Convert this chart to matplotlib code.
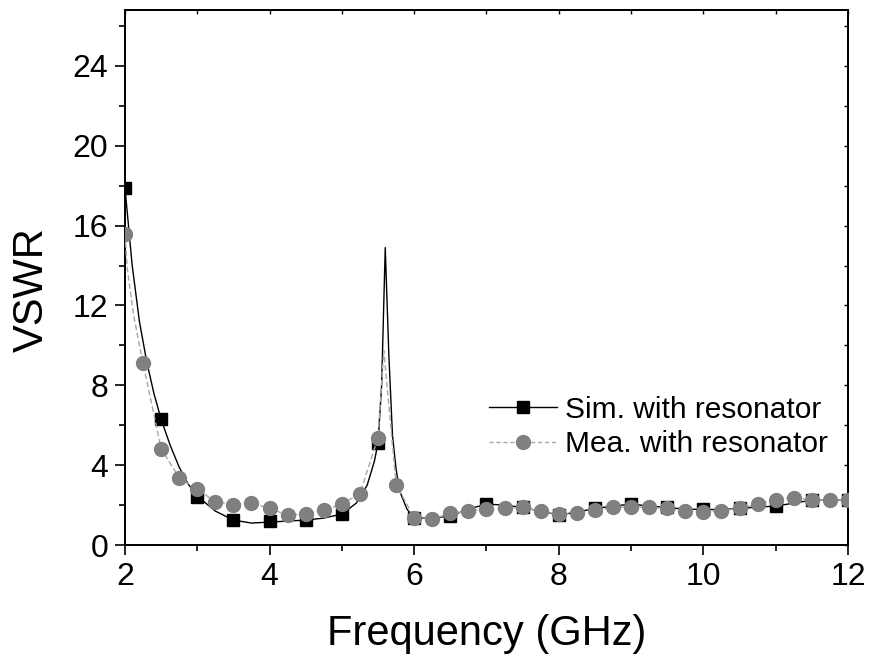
import numpy as np
import matplotlib.pyplot as plt
from matplotlib.lines import Line2D
from matplotlib.ticker import MultipleLocator, NullFormatter

plt.rcParams['font.family'] = ['Liberation Sans', 'DejaVu Sans']

# Simulated VSWR: marker points every 0.5 GHz
sim_freq = [2.0, 2.5, 3.0, 3.5, 4.0, 4.5, 5.0, 5.5, 6.0, 6.5, 7.0, 7.5, 8.0,
            8.5, 9.0, 9.5, 10.0, 10.5, 11.0, 11.5, 12.0]
sim_vswr = [17.9, 6.3, 2.4, 1.25, 1.2, 1.25, 1.53, 5.1, 1.35, 1.45, 2.05, 1.88, 1.5,
            1.83, 2.05, 1.88, 1.78, 1.83, 1.95, 2.25, 2.28]

# Simulated VSWR: the continuous curve, read at a finer step
sim_line_freq = [2.0, 2.1, 2.2, 2.3, 2.4, 2.5, 2.625, 2.75, 2.875, 3.0, 3.25, 3.5, 3.75,
                 4.0, 4.25, 4.5, 4.75, 5.0, 5.2, 5.35, 5.45, 5.5, 5.55, 5.6, 5.65, 5.7,
                 5.75, 5.8, 5.9, 6.0, 6.25, 6.5, 6.75, 7.0, 7.25, 7.5, 7.75, 8.0, 8.25,
                 8.5, 8.75, 9.0, 9.25, 9.5, 9.75, 10.0, 10.25, 10.5, 10.75, 11.0, 11.25,
                 11.5, 11.75, 12.0]
sim_line_vswr = [17.9, 14.0, 11.2, 9.2, 7.6, 6.3, 5.0, 3.9, 3.05, 2.45, 1.7, 1.25, 1.1,
                 1.15, 1.2, 1.25, 1.35, 1.55, 2.1, 3.0, 4.2, 5.1, 8.0, 14.9, 9.5, 5.5,
                 3.8, 2.7, 1.8, 1.35, 1.35, 1.45, 1.8, 2.05, 2.0, 1.88, 1.7, 1.5, 1.65,
                 1.83, 1.95, 2.05, 1.95, 1.88, 1.8, 1.78, 1.78, 1.83, 1.9, 1.95, 2.1,
                 2.25, 2.25, 2.28]

# Measured VSWR: marker points every 0.25 GHz
mea_freq = [2.0, 2.25, 2.5, 2.75, 3.0, 3.25, 3.5, 3.75, 4.0, 4.25, 4.5, 4.75, 5.0,
            5.25, 5.5, 5.75, 6.0, 6.25, 6.5, 6.75, 7.0, 7.25, 7.5, 7.75, 8.0, 8.25,
            8.5, 8.75, 9.0, 9.25, 9.5, 9.75, 10.0, 10.25, 10.5, 10.75, 11.0, 11.25,
            11.5, 11.75, 12.0]
mea_vswr = [15.6, 9.1, 4.83, 3.37, 2.8, 2.17, 2.03, 2.12, 1.83, 1.5, 1.55, 1.75, 2.05,
            2.58, 5.38, 3.03, 1.37, 1.3, 1.58, 1.7, 1.8, 1.83, 1.88, 1.7, 1.53, 1.62,
            1.75, 1.88, 1.92, 1.88, 1.83, 1.7, 1.67, 1.72, 1.83, 2.05, 2.28, 2.38,
            2.25, 2.25, 2.28]

# extra points on the measured curve that carry no marker
mea_extra_freq = [2.03, 2.12, 5.58]
mea_extra_vswr = [13.9, 11.5, 9.75]

labels = ['Sim. with resonator', 'Mea. with resonator']

mea_line = sorted(zip(mea_freq + mea_extra_freq, mea_vswr + mea_extra_vswr))
mea_line_freq = [p[0] for p in mea_line]
mea_line_vswr = [p[1] for p in mea_line]

fig = plt.figure(figsize=(8.69, 6.6), dpi=100)
ax = fig.add_axes([0.1438, 0.1742, 0.832, 0.8106])

ax.plot(sim_line_freq, sim_line_vswr, color='black', lw=1.0, zorder=2)
ax.plot(sim_freq, sim_vswr, ls='none', marker='s', ms=8, color='black', zorder=3)
ax.plot(mea_line_freq, mea_line_vswr, color='#a8a8a8', lw=1.0, ls=(0, (4, 2)), zorder=4)
ax.plot(mea_freq, mea_vswr, ls='none', marker='o', ms=10, color='#808080', zorder=5)

ax.set_xlim(2, 12)
ax.set_ylim(0, 26.8)
ax.xaxis.set_major_locator(MultipleLocator(2))
ax.xaxis.set_minor_locator(MultipleLocator(1))
ax.yaxis.set_major_locator(MultipleLocator(4))
ax.yaxis.set_minor_locator(MultipleLocator(2))
ax.tick_params(which='major', direction='out', length=7, width=1.2, labelsize=23, pad=5)
ax.tick_params(which='minor', direction='out', length=4, width=1.2)
for sp in ax.spines.values():
    sp.set_linewidth(1.4)

top = ax.secondary_xaxis('top')
top.xaxis.set_major_locator(MultipleLocator(1))
top.xaxis.set_major_formatter(NullFormatter())
top.tick_params(direction='in', length=3, width=1.0)
top.spines['top'].set_linewidth(1.4)

right = ax.secondary_yaxis('right')
right.yaxis.set_major_locator(MultipleLocator(2))
right.yaxis.set_major_formatter(NullFormatter())
right.tick_params(direction='in', length=3, width=1.0)
right.spines['right'].set_linewidth(1.4)

ax.set_xlabel('Frequency (GHz)', fontsize=30, labelpad=16)
ax.set_ylabel('VSWR', fontsize=30)
ax.yaxis.set_label_coords(-0.101, 0.477)

handles = [
    Line2D([], [], color='black', lw=1.0, marker='s', ms=8),
    Line2D([], [], color='#a8a8a8', lw=1.0, ls=(0, (3, 2)), marker='o', ms=10,
           mfc='#808080', mec='#808080'),
]
ax.legend(handles, labels, loc='upper left', bbox_to_anchor=(0.503, 0.279),
          frameon=False, fontsize=21.5, handlelength=2.3, handletextpad=0.25,
          labelspacing=0.22, borderpad=0, borderaxespad=0)

fig.savefig('out.png', dpi=100)
